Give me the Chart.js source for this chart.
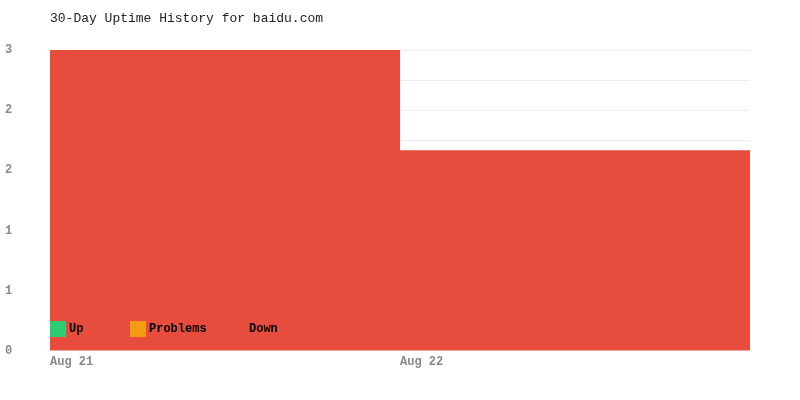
<!DOCTYPE html>
<html>
<head>
<meta charset="utf-8">
<script src="https://cdn.jsdelivr.net/npm/chart.js@4/dist/chart.umd.min.js"></script>
<style>
  html, body { margin: 0; padding: 0; background: #fff; }
  #wrap { width: 800px; height: 400px; }
</style>
</head>
<body>
<div id="wrap"><canvas id="c" width="800" height="400"></canvas></div>
<script>
const categories = ['Aug 21', 'Aug 22'];
const upValues = [0, 0];
const problemValues = [0, 0];
const downValues = [3, 2];
const seriesNames = ['Up', 'Problems', 'Down'];
const seriesColors = ['#2ecc71', '#f39c12', '#e74c3c'];
const titleText = '30-Day Uptime History for baidu.com';

const MONO = "'Liberation Mono', monospace";

const insideLegend = {
  id: 'insideLegend',
  afterDatasetsDraw(chart) {
    const ctx = chart.ctx;
    const area = chart.chartArea;
    const offsets = [0, 80, 180];
    const y = area.bottom - 30;
    ctx.save();
    ctx.font = 'bold 12px ' + MONO;
    ctx.textBaseline = 'middle';
    ctx.textAlign = 'left';
    chart.data.datasets.forEach((ds, i) => {
      const x = area.left + offsets[i];
      ctx.fillStyle = ds.backgroundColor;
      ctx.fillRect(x, y, 16, 16);
      ctx.fillStyle = '#000';
      ctx.fillText(ds.label, x + 19, y + 7.5);
    });
    ctx.restore();
  }
};

new Chart(document.getElementById('c'), {
  type: 'bar',
  data: {
    labels: categories,
    datasets: [
      { label: seriesNames[0], data: upValues, backgroundColor: seriesColors[0] },
      { label: seriesNames[1], data: problemValues, backgroundColor: seriesColors[1] },
      { label: seriesNames[2], data: downValues, backgroundColor: seriesColors[2] }
    ]
  },
  options: {
    responsive: false,
    animation: false,
    devicePixelRatio: 1,
    layout: { padding: { left: 5, right: 50, top: 0, bottom: 26.6 } },
    datasets: { bar: { barPercentage: 1, categoryPercentage: 1, borderWidth: 0, inflateAmount: 0 } },
    plugins: {
      legend: { display: false },
      tooltip: { enabled: false },
      title: {
        display: true,
        text: titleText,
        align: 'start',
        fullSize: false,
        color: '#222',
        font: { family: MONO, size: 13, weight: 'normal', lineHeight: '16px' },
        padding: { top: 11, bottom: 23 }
      }
    },
    scales: {
      x: {
        stacked: true,
        grid: { display: false, drawTicks: false },
        border: { display: false },
        ticks: {
          align: 'start',
          labelOffset: -175,
          padding: 4,
          color: '#888',
          font: { family: MONO, size: 12, weight: 'bold' }
        }
      },
      y: {
        stacked: true,
        min: 0,
        max: 3,
        grid: {
          color: (c) => (c.tick && c.tick.value === 0 ? 'rgba(0,0,0,0)' : '#ececec'),
          drawTicks: false
        },
        border: { display: false },
        afterFit(scale) { scale.width = 45; },
        ticks: {
          stepSize: 0.3,
          crossAlign: 'far',
          color: '#888',
          font: { family: MONO, size: 12, weight: 'bold' },
          callback: (v, i) => (i % 2 ? '' : String(Math.round(v)))
        }
      }
    }
  },
  plugins: [insideLegend]
});
</script>
</body>
</html>
